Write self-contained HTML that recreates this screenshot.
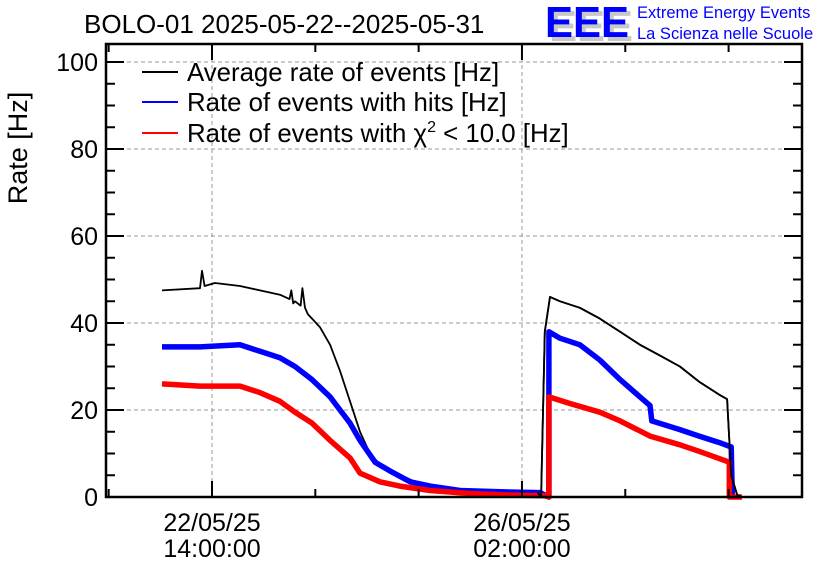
<!DOCTYPE html>
<html><head><meta charset="utf-8">
<style>
body{margin:0;background:#fff;}
svg{display:block;font-family:"Liberation Sans",Arial,sans-serif;}
</style></head>
<body>
<svg id="chart" width="836" height="572" viewBox="0 0 836 572">
<rect width="836" height="572" fill="#fff"/>
<text x="84" y="33" font-size="26">BOLO-01 2025-05-22--2025-05-31</text>
<g>
<text x="549" y="41" font-size="44" font-weight="bold" fill="#c8c8c8" textLength="84" lengthAdjust="spacingAndGlyphs">EEE</text>
<text x="545" y="37" font-size="44" font-weight="bold" fill="#0000ff" textLength="84" lengthAdjust="spacingAndGlyphs">EEE</text>
<text x="637" y="18" font-size="16.5" fill="#0000ff">Extreme Energy Events</text>
<text x="637" y="39" font-size="16.5" fill="#0000ff">La Scienza nelle Scuole</text>
</g>
<text transform="translate(27,148) rotate(-90)" text-anchor="middle" font-size="27">Rate [Hz]</text>
<g id="grid"></g>
<g id="series"></g>
<g id="axes"></g>
<g>
<line x1="142" y1="72" x2="178" y2="72" stroke="#000" stroke-width="2"/>
<text x="187" y="81" font-size="25.8">Average rate of events [Hz]</text>
<line x1="142" y1="102" x2="178" y2="102" stroke="#0000ff" stroke-width="2"/>
<text x="187" y="111" font-size="25.8">Rate of events with hits [Hz]</text>
<line x1="142" y1="133" x2="178" y2="133" stroke="#ff0000" stroke-width="2"/>
<text x="187" y="142" font-size="25.8">Rate of events with χ<tspan font-size="16" dy="-10">2</tspan><tspan dy="10"> &lt; 10.0 [Hz]</tspan></text>
</g>
</svg>
<script>
// hours since 2025-05-22 00:00
const blackT=[0.45,10.75,11.3,12,14.8,21.6,27.0,32.4,35,35.5,36,36.5,38,38.5,39.2,40,41.1,43.3,46.0,48.7,51.4,54.1,56.8,59.5,62.2,64.9,67.7,70.4,75.8,81.2,86.6,92.0,97.5,102.3,103.2,104.2,105.6,108.3,113.7,119.1,124.6,130.0,135.4,140.8,146.0,151.5,153.6,154.7,156.3,157.6];
const blackV=[47.5,48,52,48.5,49.2,48.5,47.5,46.5,45.5,47.5,44.5,45,44,48,43.5,42,41,39,35,29,22,15,10,7.5,6,5,4,3,2,1.5,1.5,1.2,1,1,0,38,46,45,43.5,41,38,35,32.5,30,26.5,23.5,22.5,5,0.5,0];
const blueT=[0.45,10.75,21.6,27.0,32.4,36.5,41.1,46.0,48.7,51.4,54.1,58.2,62.2,67.7,73.1,81.2,92.0,102.9,105.3,105.3,108.3,113.7,119.1,124.6,130.0,132.7,133.2,140.8,146.0,151.5,154.7,155.0];
const blueV=[34.5,34.5,35,33.5,32,30,27,23,20,17,13,8,6,3.5,2.5,1.5,1.2,1,0,38,36.5,35,31.5,27,23,21,17.5,15.5,14,12.5,11.5,0];
const redT=[0.45,10.75,21.6,27.0,32.4,36.5,41.1,46.0,51.4,54.1,59.5,64.9,73.1,83.9,92.0,104.2,105.3,105.3,111.0,119.1,124.6,132.7,140.8,146.0,154.2,154.2,157.6];
const redV=[26,25.5,25.5,24,22,19.5,17,13,9,5.5,3.5,2.5,1.5,0.8,0.5,0.3,0,23,21.5,19.5,17.5,14,12,10.5,8,0,0];
const yTicks=[0,20,40,60,80,100];
const xMajorT=[14,98];
const xLabels=[["22/05/25","14:00:00"],["26/05/25","02:00:00"]];

const L=106,R=802,T=44,B=497;
const xs=h=>212+(h-14)*3.69;
const ys=v=>B-v*4.35;
const NS="http://www.w3.org/2000/svg";
function mk(tag,attrs,parent){const e=document.createElementNS(NS,tag);for(const k in attrs)e.setAttribute(k,attrs[k]);parent.appendChild(e);return e;}
const grid=document.getElementById('grid'),ser=document.getElementById('series'),ax=document.getElementById('axes');
yTicks.forEach(v=>{if(v>0){const g=mk('line',{x1:L,x2:R,y1:ys(v),y2:ys(v),stroke:'#999','stroke-dasharray':'4,3','stroke-width':1},grid);

}
const t=mk('text',{x:98,y:ys(v)+9,'text-anchor':'end','font-size':25},ax);t.textContent=v;

});
xMajorT.forEach((h,i)=>{const g=mk('line',{x1:xs(h),x2:xs(h),y1:T,y2:B,stroke:'#999','stroke-dasharray':'4,3','stroke-width':1},grid);


xLabels[i].forEach((s,j)=>{const t=mk('text',{x:xs(h),y:531+j*26,'text-anchor':'middle','font-size':25},ax);t.textContent=s;

});});
function path(T_,V_,col,w,name){const d=T_.map((t,i)=>(i?'L':'M')+xs(t).toFixed(1)+','+ys(V_[i]).toFixed(1)).join('');
const p=mk('path',{d:d,fill:'none',stroke:col,'stroke-width':w,'stroke-linejoin':'round'},ser);

}
path(blackT,blackV,'#000',1.8,'average-rate-line');
path(blueT,blueV,'#0000ff',5.5,'hits-rate-band');
path(redT,redV,'#ff0000',5.5,'chi2-rate-band');
path(blackT.slice(33),blackV.slice(33),'#000',1.8,'average-rate-line-b');
// ticks
for(let v=0;v<=100;v+=5){const len=v%20===0?18:9;
mk('line',{x1:L,x2:L+len,y1:ys(v),y2:ys(v),stroke:'#000','stroke-width':2},ax);
mk('line',{x1:R,x2:R-len,y1:ys(v),y2:ys(v),stroke:'#000','stroke-width':2},ax);}
for(let h=-14;h<=174;h+=28){if(xs(h)<L+2||xs(h)>R-2)continue;const len=(h===14||h===98)?16:8;
mk('line',{x1:xs(h),x2:xs(h),y1:B,y2:B-len,stroke:'#000','stroke-width':2},ax);
mk('line',{x1:xs(h),x2:xs(h),y1:T,y2:T+len,stroke:'#000','stroke-width':2},ax);}
const fr=mk('rect',{x:L,y:T,width:R-L,height:B-T,fill:'none',stroke:'#000','stroke-width':2.5},ax);


</script>
</body></html>
